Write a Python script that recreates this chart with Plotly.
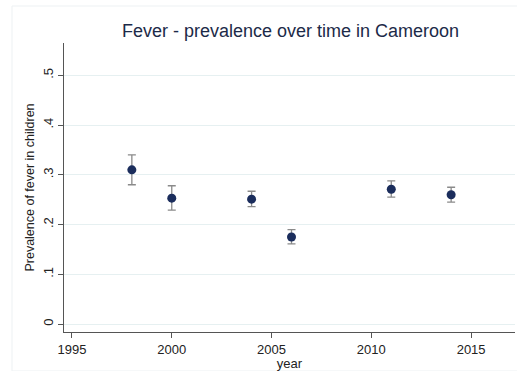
import plotly.graph_objects as go

years = [1998, 2000, 2004, 2006, 2011, 2014]
prevalence = [0.310, 0.253, 0.251, 0.175, 0.271, 0.260]
ci_low = [0.280, 0.229, 0.236, 0.161, 0.255, 0.245]
ci_high = [0.340, 0.278, 0.267, 0.190, 0.288, 0.275]

y_ticks = [0, 0.1, 0.2, 0.3, 0.4, 0.5]
y_tick_labels = ["0", ".1", ".2", ".3", ".4", ".5"]
x_ticks = [1995, 2000, 2005, 2010, 2015]

err_plus = [h - p for h, p in zip(ci_high, prevalence)]
err_minus = [p - l for p, l in zip(prevalence, ci_low)]

fig = go.Figure()
fig.add_trace(go.Scatter(
    x=years, y=prevalence, mode="markers",
    marker=dict(color="#1b2d5c", size=9),
    error_y=dict(type="data", symmetric=False, array=err_plus, arrayminus=err_minus,
                 color="#8a8a8a", thickness=1.3, width=4),
    showlegend=False,
))

fig.update_layout(
    width=517, height=371,
    margin=dict(l=64, r=2, t=43, b=39, autoexpand=False),
    paper_bgcolor="white", plot_bgcolor="white",
    font=dict(family="Liberation Sans, Arial, sans-serif", color="#222"),
    title=dict(text="Fever - prevalence over time in Cameroon", x=0.562, xanchor="center",
               y=0.918, yanchor="middle", font=dict(size=18, color="#1c2a48")),
    xaxis=dict(range=[1994.6, 2017.2], tickvals=x_ticks, showgrid=False, zeroline=False,
               showline=True, linecolor="#555", linewidth=1.3, ticks="outside", ticklen=5,
               tickcolor="#555", tickfont=dict(size=13, color="#222"), automargin=False,
               title=dict(text="year", font=dict(size=13, color="#222"), standoff=0)),
    yaxis=dict(range=[-0.016, 0.565], tickvals=y_ticks, ticktext=y_tick_labels,
               tickangle=-90, showgrid=True, gridcolor="#e6f0f1", gridwidth=1,
               zeroline=False, showline=True, linecolor="#555", linewidth=1.3,
               ticks="outside", ticklen=5, tickcolor="#555", automargin=False,
               tickfont=dict(size=13, color="#222"),
               title=dict(text="Prevalence of fever in children", font=dict(size=12.5, color="#222"),
                          standoff=3)),
)

fig.add_shape(type="rect", xref="paper", yref="paper", layer="below",
              x0=-52/451, x1=1.01, y0=-39/289, y1=(371-6-39)/289,
              line=dict(color="#edf1f3", width=1))

fig.write_html("out.html", config={"displayModeBar": False})

with open("out.html", encoding="utf-8") as f:
    html = f.read()
html = html.replace("<head>", "<head><style>html,body{margin:0;padding:0;overflow:hidden;}</style>", 1)
with open("out.html", "w", encoding="utf-8") as f:
    f.write(html)
